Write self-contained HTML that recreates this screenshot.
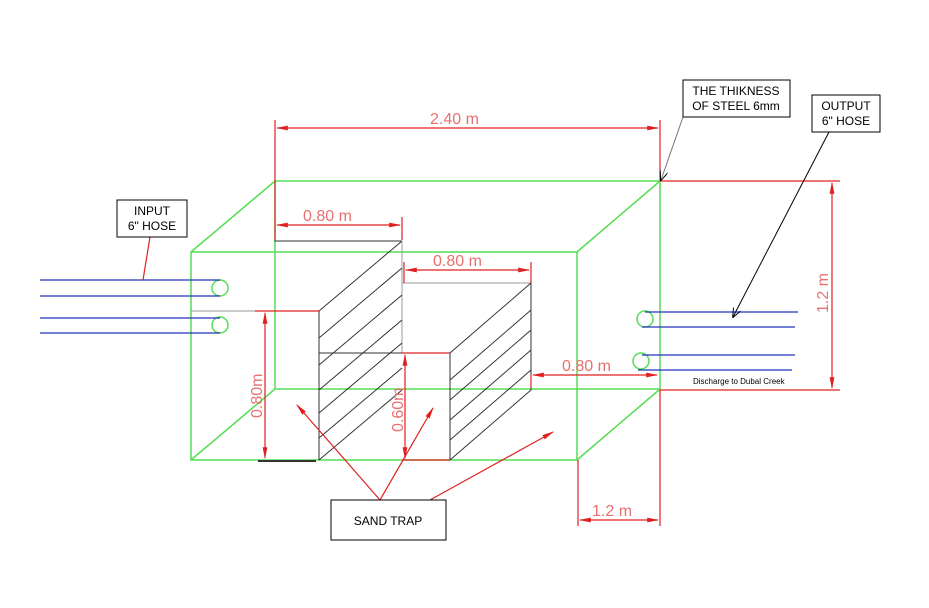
<!DOCTYPE html><html><head><style>body{margin:0;background:#fff}</style></head><body>
<svg width="929" height="603" xmlns="http://www.w3.org/2000/svg" font-family="Liberation Sans, sans-serif">
<defs><marker id="a" markerWidth="10" markerHeight="6" refX="9" refY="3" orient="auto-start-reverse"><path d="M0,1 L10,3 L0,5z" fill="#e02020"/></marker>
<marker id="b" markerWidth="10" markerHeight="8" refX="9" refY="4" orient="auto"><path d="M0,0 L10,4 L0,8" fill="none" stroke="#000"/></marker></defs>
<g stroke="#55dd55" stroke-width="1.5" fill="none">
<rect x="191" y="252" width="386" height="208"/><rect x="275" y="181" width="385" height="208"/>
<line x1="191" y1="252" x2="275" y2="181"/><line x1="577" y1="252" x2="660" y2="181"/>
<line x1="191" y1="460" x2="275" y2="389"/><line x1="577" y1="460" x2="660" y2="389"/>
<circle cx="220" cy="288" r="8"/><circle cx="220" cy="325" r="8"/><circle cx="645" cy="319" r="8"/><circle cx="641" cy="361" r="8"/>
</g>
<g stroke="#333" stroke-width="1" fill="none">
<line x1="274" y1="241" x2="402" y2="241"/><line x1="319" y1="311" x2="319" y2="460"/><line x1="319" y1="311" x2="402" y2="241"/>
<line x1="402" y1="241" x2="402" y2="353" stroke="#999"/><line x1="319" y1="353" x2="402" y2="353"/>
<line x1="319" y1="460" x2="402" y2="390"/>
<line x1="402" y1="283" x2="531" y2="283" stroke="#999"/><line x1="531" y1="283" x2="531" y2="390"/><line x1="450" y1="353" x2="450" y2="460"/>
<line x1="450" y1="353" x2="531" y2="283"/><line x1="450" y1="460" x2="531" y2="390"/>
<path d="M319 338L402 268M319 365L402 295M319 390L402 320M319 413L402 343M319 438L402 368"/>
<path d="M450 380L531 310M450 400L531 330M450 420L531 350M450 440L531 370"/>
</g>
<g stroke="#2233bb" stroke-width="1.3">
<line x1="40" y1="280" x2="220" y2="280"/><line x1="40" y1="296" x2="220" y2="296"/><line x1="40" y1="318" x2="220" y2="318"/><line x1="40" y1="333" x2="220" y2="333"/>
<line x1="645" y1="312" x2="798" y2="312"/><line x1="642" y1="327" x2="795" y2="327"/><line x1="642" y1="355" x2="795" y2="355"/><line x1="638" y1="370" x2="792" y2="370"/>
</g>
<line x1="191" y1="311" x2="255" y2="311" stroke="#999"/>
<g stroke="#e02020" stroke-width="1.2" fill="none">
<line x1="275" y1="120" x2="275" y2="240"/><line x1="660" y1="120" x2="660" y2="181"/>
<line x1="277" y1="128" x2="658" y2="128" marker-start="url(#a)" marker-end="url(#a)"/>
<line x1="402" y1="217" x2="402" y2="240"/><line x1="277" y1="225" x2="400" y2="225" marker-start="url(#a)" marker-end="url(#a)"/>
<line x1="404" y1="262" x2="404" y2="283"/><line x1="531" y1="262" x2="531" y2="283"/><line x1="406" y1="270" x2="529" y2="270" marker-start="url(#a)" marker-end="url(#a)"/>
<line x1="531" y1="375" x2="531" y2="388"/><line x1="533" y1="375" x2="657" y2="375" marker-start="url(#a)" marker-end="url(#a)"/>
<line x1="660" y1="181" x2="840" y2="181"/><line x1="660" y1="390" x2="840" y2="390"/>
<line x1="832" y1="183" x2="832" y2="388" marker-start="url(#a)" marker-end="url(#a)"/>
<line x1="578" y1="460" x2="578" y2="526"/><line x1="660" y1="390" x2="660" y2="526"/>
<line x1="580" y1="520" x2="658" y2="520" marker-start="url(#a)" marker-end="url(#a)"/>
<line x1="255" y1="311" x2="319" y2="311"/><line x1="265" y1="313" x2="265" y2="458" marker-start="url(#a)" marker-end="url(#a)"/>
<line x1="402" y1="353" x2="450" y2="353"/><line x1="405" y1="355" x2="405" y2="458" marker-start="url(#a)" marker-end="url(#a)"/>
<line x1="402" y1="460" x2="450" y2="460"/>
<line x1="150" y1="237" x2="143" y2="280"/>
<line x1="380" y1="500" x2="297" y2="405" marker-end="url(#a)"/><line x1="380" y1="500" x2="433" y2="408" marker-end="url(#a)"/><line x1="430" y1="500" x2="553" y2="432" marker-end="url(#a)"/>
</g>
<line x1="258" y1="461" x2="316" y2="461" stroke="#333" stroke-width="2"/>
<g fill="#e87070" font-size="16">
<text x="430" y="124">2.40  m</text><text x="303" y="221">0.80  m</text><text x="433" y="266">0.80  m</text><text x="562" y="371">0.80 m</text><text x="592" y="516">1.2  m</text>
<text transform="translate(828,313) rotate(-90)">1.2  m</text>
<text transform="translate(262,418) rotate(-90)">0.80m</text><text transform="translate(403,432) rotate(-90)">0.60m</text>
</g>
<line x1="683" y1="117" x2="661" y2="180" stroke="#777" marker-end="url(#b)"/>
<line x1="829" y1="132" x2="733" y2="317" stroke="#000" marker-end="url(#b)"/>
<g fill="#fff" stroke="#000"><rect x="117" y="200" width="70" height="37"/><rect x="683" y="80" width="107" height="37"/><rect x="812" y="95" width="68" height="37"/><rect x="331" y="500" width="115" height="40"/></g>
<g font-size="12" fill="#000" text-anchor="middle">
<text x="152" y="215">INPUT</text><text x="152" y="230">6" HOSE</text>
<text x="736" y="95">THE THIKNESS</text><text x="736" y="110">OF STEEL 6mm</text>
<text x="846" y="110">OUTPUT</text><text x="846" y="125">6" HOSE</text>
<text x="388" y="525">SAND TRAP</text>
</g>
<text x="693" y="384" font-size="8" fill="#000">Discharge to Dubal Creek</text>
</svg></body></html>
